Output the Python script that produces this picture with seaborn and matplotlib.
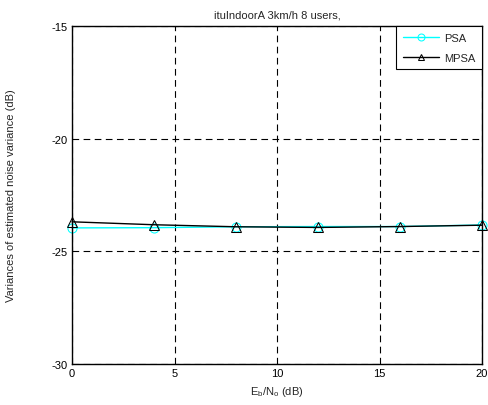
import matplotlib
matplotlib.use("Agg")
import matplotlib.pyplot as plt
import seaborn as sns
import pandas as pd

ebno = [0, 4, 8, 12, 16, 20]
psa = [-23.96, -23.95, -23.91, -23.90, -23.90, -23.83]
mpsa = [-23.69, -23.82, -23.91, -23.94, -23.90, -23.84]

sns.set_style("white")
plt.rcParams['font.family'] = ['Liberation Sans', 'DejaVu Sans']
plt.rcParams['axes.unicode_minus'] = False
plt.rcParams['mathtext.default'] = 'regular'

df = pd.DataFrame({"x": ebno * 2, "y": psa + mpsa,
                   "s": ["PSA"] * len(ebno) + ["MPSA"] * len(ebno)})

fig = plt.figure(figsize=(4.88, 4.06), dpi=100)
ax = fig.add_axes([72/488, 1-365/406, 410/488, 338/406])
sns.lineplot(data=df, x="x", y="y", hue="s", style="s",
             hue_order=["PSA", "MPSA"],
             palette={"PSA": "cyan", "MPSA": "black"},
             markers={"PSA": "o", "MPSA": "^"}, dashes=False,
             markersize=6.5, linewidth=1, ax=ax)
for line in ax.lines:
    line.set_markerfacecolor("none")
    line.set_markeredgecolor(line.get_color())
    line.set_clip_on(False)
ax.set_xlim(0, 20)
ax.set_ylim(-30, -15)
ax.set_xticks([0, 5, 10, 15, 20])
ax.set_yticks([-30, -25, -20, -15])
ax.grid(True, color="black", linestyle=(0, (6, 4)), linewidth=0.8)
for s in ax.spines.values():
    s.set_color("black")
    s.set_linewidth(1)
ax.tick_params(labelsize=8, direction="in", length=4, colors="black", pad=3)
ax.set_xlabel(r"E$_b$/N$_o$ (dB)", fontsize=8)
ax.set_ylabel("Variances of estimated noise variance (dB)", fontsize=8, labelpad=26)
ax.set_title("ituIndoorA 3km/h 8 users,", fontsize=8)
h, l = ax.get_legend_handles_labels()
order = [l.index("PSA"), l.index("MPSA")]
leg = ax.legend([h[i] for i in order], [l[i] for i in order], loc="upper right",
                fontsize=8, fancybox=False, edgecolor="black", framealpha=1,
                borderaxespad=0.0, handlelength=3.2, labelspacing=0.9,
                borderpad=0.6, handletextpad=0.5)
leg.get_frame().set_linewidth(0.8)
for lh in leg.legend_handles:
    lh.set_markerfacecolor("none")
    lh.set_markersize(5)
fig.savefig("out.png", dpi=100)
